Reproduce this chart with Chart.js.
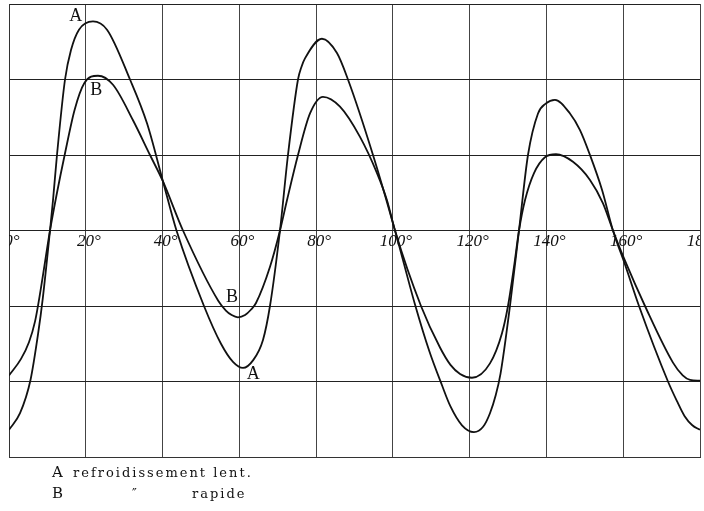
<!DOCTYPE html>
<html>
<head>
<meta charset="utf-8">
<script src="https://cdn.jsdelivr.net/npm/chart.js@4.4.0/dist/chart.umd.min.js"></script>
<style>
  html, body { margin: 0; padding: 0; background: #fff; }
  #wrap { width: 704px; height: 511px; }
</style>
</head>
<body>
<div id="wrap"><canvas id="myChart" width="704" height="511"></canvas></div>
<script>
// curve A : refroidissement lent  (degrees, height in grid units)
let degA = [0, 2.87, 5.6, 7.6, 8.8, 10.68, 11.46, 12.5, 14.59, 16.15, 18.23, 21.88,
  25.53, 31.52, 35.95, 40.11, 43.63, 50.79, 55.22, 58.35, 60.95, 63.56, 66.16, 67.98,
  70.59, 72.67, 75.28, 76.2, 77.1, 81.53, 85.43, 88.3, 94.82, 100.55, 105.76, 109.5, 112.79, 115,
  118, 121.12, 123.5, 125.29, 126.8, 128.03, 130.5, 132.85, 135.19, 137.8, 139.8, 142.22,
  146.13, 148.74, 151.34, 154.47, 157.33, 160.46, 164.11, 171.66, 174, 176, 178, 180];
let valA = [-2.64, -2.42, -1.98, -1.36, -0.9, 0, 0.4, 1.0, 2.0, 2.39, 2.66, 2.77,
  2.66, 2.0, 1.42, 0.65, 0, -1.0, -1.5, -1.74, -1.82, -1.72, -1.45, -1.0,
  0, 1.0, 2.0, 2.17, 2.28, 2.54, 2.35, 2.0, 1.0, 0, -0.98, -1.6, -2.05, -2.33,
  -2.58, -2.67, -2.6, -2.42, -2.18, -1.9, -1.0, 0, 1.0, 1.55, 1.68, 1.73,
  1.55, 1.33, 1.0, 0.54, 0, -0.45, -1.0, -2.0, -2.26, -2.46, -2.58, -2.64];

// curve B : refroidissement rapide
let degB = [0, 3.13, 5.2, 6.8, 8.2, 10.68, 12.5, 14.5, 17.1, 19.6, 23.18,
  27.09, 32.3, 36.73, 40.11, 45.32, 54.5, 56.5, 58, 59.65, 61.5, 63, 64.34, 67.99,
  70.59, 72.41, 75.28, 78.41, 81.79, 86.22, 91.43, 95.86, 98.46, 100.55,
  107.32, 112.27, 115, 117.5, 120.6, 125.29, 128.42, 129.98, 131.55, 132.85,
  134.41, 136.76, 139.62, 142.49, 146.91, 151.34, 154.73, 157.33, 160.46,
  165.67, 172.96, 175.5, 177.4, 180];
let valB = [-1.92, -1.7, -1.48, -1.2, -0.8, 0, 0.5, 1.0, 1.6, 1.95, 2.05,
  1.93, 1.46, 1.0, 0.65, 0, -0.93, -1.06, -1.12, -1.15, -1.12, -1.05, -0.96, -0.48,
  0, 0.4, 1.0, 1.55, 1.77, 1.64, 1.24, 0.76, 0.4, 0,
  -1.0, -1.55, -1.78, -1.9, -1.95, -1.76, -1.36, -1.0, -0.48, 0,
  0.4, 0.76, 0.97, 1.01, 0.91, 0.67, 0.36, 0, -0.4,
  -1.0, -1.75, -1.92, -1.98, -1.99];

let tickValues = [0, 20, 40, 60, 80, 100, 120, 140, 160, 180];
let tickLabels = ["0°", "20°", "40°", "60°", "80°", "100°", "120°", "140°", "160°", "180°"];

// letters written next to the curves
let curveNames = ["A", "B", "B", "A"];
let curveNameX = [17.4, 22.7, 58.1, 63.6];
let curveNameY = [2.84, 1.86, -0.88, -1.90];

let captionKeys = ["A", "B"];
let captionTexts = [["refroidissement lent."], ["″", "rapide"]];

function toPoints(xs, ys) {
  return xs.map((x, i) => ({ x: x, y: ys[i] }));
}

const paper = {
  id: "paper",
  beforeDatasetsDraw(chart) {
    const { ctx, chartArea, scales } = chart;
    ctx.save();
    ctx.beginPath();
    ctx.rect(chartArea.left, chartArea.top, chartArea.right - chartArea.left, chartArea.bottom - chartArea.top);
    ctx.clip();
    ctx.font = 'italic 17px "Liberation Serif"';
    ctx.fillStyle = "#111";
    ctx.textAlign = "center";
    ctx.textBaseline = "top";
    let y0 = scales.y.getPixelForValue(0);
    tickValues.forEach((v, i) => {
      ctx.fillText(tickLabels[i], scales.x.getPixelForValue(v) + 3, y0 + 3);
    });
    ctx.restore();
  },
  afterDatasetsDraw(chart) {
    const { ctx, scales } = chart;
    ctx.save();
    ctx.fillStyle = "#111";
    ctx.font = '18px "Liberation Serif"';
    ctx.textAlign = "center";
    ctx.textBaseline = "middle";
    curveNames.forEach((t, i) => {
      ctx.fillText(t, scales.x.getPixelForValue(curveNameX[i]), scales.y.getPixelForValue(curveNameY[i]));
    });

    // caption under the figure
    ctx.textAlign = "left";
    ctx.textBaseline = "alphabetic";
    ctx.font = '15px "DejaVu Serif"';
    ctx.fillText(captionKeys[0], 52, 477);
    ctx.fillText(captionKeys[1], 52, 498);
    ctx.font = '13px "DejaVu Serif"';
    ctx.letterSpacing = "2px";
    ctx.fillText(captionTexts[0][0], 73, 477);
    ctx.fillText(captionTexts[1][0], 132, 498);
    ctx.fillText(captionTexts[1][1], 192, 498);
    ctx.restore();
  }
};

let ctx = document.getElementById("myChart").getContext("2d");
let chart = new Chart(ctx, {
  type: "scatter",
  data: {
    datasets: [
      {
        label: "A",
        data: toPoints(degA, valA),
        showLine: true,
        borderColor: "#111",
        borderWidth: 1.8,
        pointRadius: 0,
        cubicInterpolationMode: "monotone",
      },
      {
        label: "B",
        data: toPoints(degB, valB),
        showLine: true,
        borderColor: "#111",
        borderWidth: 1.8,
        pointRadius: 0,
        cubicInterpolationMode: "monotone",
      }
    ],
  },
  options: {
    responsive: false,
    animation: false,
    layout: { padding: { left: 9, top: 4, right: 4, bottom: 54 } },
    plugins: { legend: { display: false }, tooltip: { enabled: false } },
    scales: {
      x: {
        type: "linear",
        min: 0,
        max: 180,
        ticks: { display: false, stepSize: 20 },
        grid: { color: "#444", lineWidth: 1, drawTicks: false },
        border: { color: "#333", width: 1 },
      },
      y: {
        type: "linear",
        min: -3,
        max: 3,
        ticks: { display: false, stepSize: 1 },
        grid: { color: "#222", lineWidth: 1, drawTicks: false },
        border: { color: "#333", width: 1 },
      }
    }
  },
  plugins: [paper],
});
</script>
</body>
</html>
